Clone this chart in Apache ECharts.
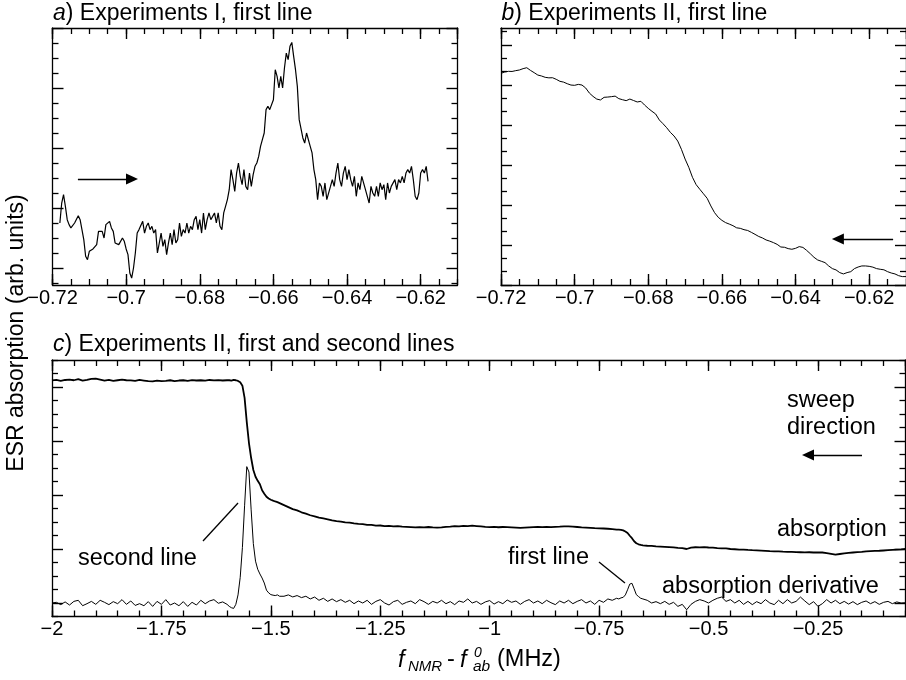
<!DOCTYPE html>
<html>
<head>
<meta charset="utf-8">
<script src="https://cdn.jsdelivr.net/npm/echarts@6/dist/echarts.min.js"></script>
<style>
html,body{margin:0;padding:0;background:#fff;}
#chart{width:906px;height:680px;}
</style>
</head>
<body>
<div id="chart"></div>
<script>
const FONT = '"Liberation Sans", Arial, Helvetica, sans-serif';

// ---- a) Experiments I, first line: sweep frequency (MHz) and ESR signal (arb. units)
const aFreq = [
-0.718,-0.7175,-0.717,-0.7165,-0.716,-0.7155,-0.715,-0.7145,-0.714,-0.7135,
-0.713,-0.7125,-0.712,-0.7115,-0.711,-0.7105,-0.71,-0.7095,-0.709,-0.7085,
-0.708,-0.7075,-0.707,-0.7065,-0.706,-0.7055,-0.705,-0.7045,-0.704,-0.7035,
-0.703,-0.7025,-0.702,-0.7015,-0.701,-0.7005,-0.7,-0.6995,-0.699,-0.6985,
-0.698,-0.6975,-0.697,-0.6965,-0.696,-0.6955,-0.695,-0.6945,-0.694,-0.6935,
-0.693,-0.6925,-0.692,-0.6915,-0.691,-0.6905,-0.69,-0.6895,-0.689,-0.6885,
-0.688,-0.6875,-0.687,-0.6865,-0.686,-0.6855,-0.685,-0.6845,-0.684,-0.6835,
-0.683,-0.6825,-0.682,-0.6815,-0.681,-0.6805,-0.68,-0.6795,-0.679,-0.6785,
-0.678,-0.6775,-0.677,-0.6765,-0.676,-0.6755,-0.675,-0.6745,-0.674,-0.6735,
-0.673,-0.6725,-0.672,-0.6715,-0.671,-0.6705,-0.67,-0.6695,-0.669,-0.6685,
-0.668,-0.6675,-0.667,-0.6665,-0.666,-0.6655,-0.665,-0.6645,-0.664,-0.6635,
-0.663,-0.6625,-0.662,-0.6615,-0.661,-0.6605,-0.66,-0.6595,-0.659,-0.6585,
-0.658,-0.6575,-0.657,-0.6565,-0.656,-0.6555,-0.655,-0.6545,-0.654,-0.6535,
-0.653,-0.6525,-0.652,-0.6515,-0.651,-0.6505,-0.65,-0.6495,-0.649,-0.6485,
-0.648,-0.6475,-0.647,-0.6465,-0.646,-0.6455,-0.645,-0.6445,-0.644,-0.6435,
-0.643,-0.6425,-0.642,-0.6415,-0.641,-0.6405,-0.64,-0.6395,-0.639,-0.6385,
-0.638,-0.6375,-0.637,-0.6365,-0.636,-0.6355,-0.635,-0.6345,-0.634,-0.6335,
-0.633,-0.6325,-0.632,-0.6315,-0.631,-0.6305,-0.63,-0.6295,-0.629,-0.6285,
-0.628,-0.6275,-0.627,-0.6265,-0.626,-0.6255,-0.625,-0.6245,-0.624,-0.6235,
-0.623,-0.6225,-0.622,-0.6215,-0.621,-0.6205,-0.62,-0.6195,-0.619,-0.6185,
-0.618
];
const aSignal = [
3.0,4.33,4.89,4.11,3.22,2.89,2.67,2.78,3.0,3.0,
3.49,3.22,2.56,1.89,0.78,0.56,1.11,1.0,1.27,1.18,
1.56,2.44,2.56,2.44,2.0,2.89,2.78,3.11,2.67,2.44,
1.67,1.67,1.56,1.44,2.0,1.78,1.27,0.89,-0.33,-0.67,
0,1.0,2.33,2.56,2.56,3.11,2.33,2.78,3.0,2.56,
2.78,2.33,2.56,1.0,0.89,2.33,1.44,1.89,0.89,1.67,
2.33,1.56,2.56,1.67,1.89,3.0,2.11,2.56,2.33,3.0,
2.33,2.78,2.56,3.22,3.44,2.56,3.22,2.33,3.67,2.56,
3.22,3.67,3.22,3.44,3.67,3.0,3.67,2.78,2.56,3.67,
4.11,4.56,5.22,6.56,5.89,5.11,6.33,7.0,6.11,5.56,
6.56,5.44,5.22,6.33,5.44,6.22,6.78,7.0,7.44,8.11,
8.56,9.0,10.56,10.78,10.56,10.56,11.22,13.22,12.78,12.0,
12.78,12.0,13.33,14.33,13.89,14.78,15.04,14.11,13.22,12.11,
9.89,9.89,8.67,8.33,9.0,9.0,8.11,7.67,6.56,5.89,
4.56,5.67,5.44,4.78,5.67,4.56,4.56,5.44,5.89,5.44,
6.33,7.0,5.89,5.44,6.33,6.78,5.89,6.56,5.89,5.44,
6.11,4.78,5.67,5.22,6.11,6.11,5.22,5.22,4.33,5.44,
5.0,4.78,5.44,4.78,5.67,5.22,5.56,4.56,5.67,5.0,
5.44,5.44,5.89,5.22,5.89,5.67,6.11,5.67,6.33,6.56,
6.33,6.78,5.89,4.78,4.56,5.0,6.33,6.56,6.33,6.78,
5.78
];

// ---- b) Experiments II, first line
const bFreq = [
-0.72,-0.719,-0.718,-0.717,-0.716,-0.715,-0.714,-0.713,-0.712,-0.711,
-0.71,-0.709,-0.708,-0.707,-0.706,-0.705,-0.704,-0.703,-0.702,-0.701,
-0.7,-0.699,-0.698,-0.697,-0.696,-0.695,-0.694,-0.693,-0.692,-0.691,
-0.69,-0.689,-0.688,-0.687,-0.686,-0.685,-0.684,-0.683,-0.682,-0.681,
-0.68,-0.679,-0.678,-0.677,-0.676,-0.675,-0.674,-0.673,-0.672,-0.671,
-0.67,-0.669,-0.668,-0.667,-0.666,-0.665,-0.664,-0.663,-0.662,-0.661,
-0.66,-0.659,-0.658,-0.657,-0.656,-0.655,-0.654,-0.653,-0.652,-0.651,
-0.65,-0.649,-0.648,-0.647,-0.646,-0.645,-0.644,-0.643,-0.642,-0.641,
-0.64,-0.639,-0.638,-0.637,-0.636,-0.635,-0.634,-0.633,-0.632,-0.631,
-0.63,-0.629,-0.628,-0.627,-0.626,-0.625,-0.624,-0.623,-0.622,-0.621,
-0.62,-0.619,-0.618,-0.617,-0.616,-0.615,-0.614,-0.613,-0.612,-0.611,
-0.61
];
const bSignal = [
15.88,15.98,16.03,16.02,16.08,16.13,16.23,16.30,16.10,15.93,
15.75,15.68,15.58,15.54,15.55,15.43,15.28,15.22,15.10,15.00,
14.98,15.05,15.00,14.78,14.40,14.15,13.95,13.88,14.08,14.10,
14.13,14.17,13.98,13.90,13.83,13.95,13.84,13.73,13.78,13.50,
13.25,13.03,12.83,12.38,12.10,11.80,11.45,11.18,10.80,10.18,
9.45,8.83,8.08,7.53,7.18,6.84,6.50,5.93,5.43,5.08,
4.85,4.68,4.57,4.45,4.29,4.25,4.15,4.09,3.95,3.80,
3.64,3.53,3.38,3.29,3.18,3.05,2.85,2.83,2.73,2.68,
2.75,2.88,2.82,2.60,2.35,2.08,1.88,1.78,1.68,1.43,
1.23,1.13,0.93,0.83,0.93,1.00,1.23,1.35,1.43,1.43,
1.40,1.34,1.23,1.18,1.14,1.00,0.90,0.83,0.70,0.63,
0.63
];

// ---- c) Experiments II, first and second lines
const cFreq = [
-2,-1.99,-1.98,-1.97,-1.96,-1.95,-1.94,-1.93,-1.92,-1.91,
-1.9,-1.89,-1.88,-1.87,-1.86,-1.85,-1.84,-1.83,-1.82,-1.81,
-1.8,-1.79,-1.78,-1.77,-1.76,-1.75,-1.74,-1.73,-1.72,-1.71,
-1.7,-1.69,-1.68,-1.67,-1.66,-1.65,-1.64,-1.63,-1.62,-1.61,-1.6,
-1.595,-1.59,-1.585,-1.58,-1.575,-1.57,-1.565,-1.56,-1.555,-1.55,
-1.545,-1.54,-1.535,-1.53,-1.525,-1.52,-1.515,-1.51,-1.505,-1.5,
-1.495,-1.49,-1.485,-1.48,
-1.47,-1.46,-1.45,-1.44,-1.43,-1.42,-1.41,-1.4,-1.39,-1.38,
-1.37,-1.36,-1.35,-1.34,-1.33,-1.32,-1.31,-1.3,-1.29,-1.28,
-1.27,-1.26,-1.25,-1.24,-1.23,-1.22,-1.21,-1.2,-1.19,-1.18,
-1.17,-1.16,-1.15,-1.14,-1.13,-1.12,-1.11,-1.1,-1.09,-1.08,
-1.07,-1.06,-1.05,-1.04,-1.03,-1.02,-1.01,-1,-0.99,-0.98,
-0.97,-0.96,-0.95,-0.94,-0.93,-0.92,-0.91,-0.9,-0.89,-0.88,
-0.87,-0.86,-0.85,-0.84,-0.83,-0.82,-0.81,-0.8,-0.79,-0.78,
-0.77,-0.76,-0.75,-0.74,-0.73,-0.72,-0.71,
-0.705,-0.7,-0.695,-0.69,-0.685,-0.68,-0.675,-0.67,-0.665,-0.66,-0.655,-0.65,
-0.64,-0.63,-0.62,-0.61,-0.6,-0.59,-0.58,-0.57,-0.56,-0.55,
-0.54,-0.53,-0.52,-0.51,-0.5,-0.49,-0.48,-0.47,-0.46,-0.45,
-0.44,-0.43,-0.42,-0.41,-0.4,-0.39,-0.38,-0.37,-0.36,-0.35,
-0.34,-0.33,-0.32,-0.31,-0.3,-0.29,-0.28,-0.27,-0.26,-0.25,
-0.24,-0.23,-0.22,-0.21,-0.2,-0.19,-0.18,-0.17,-0.16,-0.15,
-0.14,-0.13,-0.12,-0.11,-0.1,-0.09,-0.08,-0.07,-0.06,-0.05
];
const cAbsorption = [
16.49,16.53,16.46,16.52,16.55,16.5,16.58,16.47,16.52,16.6,
16.62,16.55,16.48,16.52,16.46,16.5,16.54,16.5,16.49,16.45,
16.52,16.48,16.44,16.42,16.47,16.44,16.46,16.5,16.44,16.48,
16.5,16.46,16.51,16.48,16.5,16.47,16.52,16.49,16.51,16.48,16.5,
16.5,16.47,16.52,16.5,16.45,16.35,16.1,15.2,13.4,11.85,
10.74,9.85,9.35,9.05,8.8,8.35,8.1,7.87,7.74,7.65,
7.58,7.52,7.47,7.4,
7.25,7.1,6.95,6.86,6.72,6.62,6.5,6.42,6.32,6.26,
6.19,6.12,6.06,6.02,5.97,5.95,5.9,5.86,5.84,5.79,
5.78,5.73,5.74,5.7,5.71,5.67,5.69,5.65,5.64,5.62,
5.6,5.62,5.6,5.63,5.6,5.58,5.6,5.64,5.66,5.69,
5.68,5.72,5.7,5.73,5.7,5.67,5.64,5.62,5.64,5.61,
5.63,5.62,5.6,5.58,5.56,5.58,5.6,5.62,5.63,5.62,
5.64,5.62,5.64,5.65,5.67,5.68,5.66,5.63,5.6,5.58,
5.56,5.54,5.53,5.52,5.5,5.47,5.44,
5.43,5.42,5.38,5.3,5.19,4.98,4.8,4.57,4.43,4.35,4.3,4.27,
4.24,4.23,4.2,4.18,4.16,4.14,4.12,4.08,4.06,4.0,
4.1,4.13,4.12,4.14,4.11,4.1,4.07,4.05,4.04,4.0,
3.98,3.95,3.96,3.93,3.91,3.9,3.88,3.86,3.84,3.83,
3.82,3.8,3.79,3.78,3.77,3.76,3.75,3.76,3.74,3.75,
3.74,3.7,3.64,3.58,3.63,3.68,3.71,3.74,3.77,3.79,
3.82,3.84,3.86,3.87,3.89,3.91,3.93,3.95,3.97,4.0
];
const cDerivative = [
0,0.05,-0.12,0.08,-0.15,0.12,0.2,-0.2,-0.05,0.12,
-0.1,0.2,0.05,-0.12,0.1,-0.05,0.25,-0.1,0.15,-0.18,
-0.05,-0.2,0.1,-0.25,0.12,-0.1,0.25,-0.15,0,-0.2,
0.1,-0.25,0.05,-0.15,0.2,-0.05,0.15,0.25,-0.02,0.08,-0.1,
-0.25,-0.35,-0.4,-0.1,0.6,1.9,4.1,7.2,10.1,9.7,
6.9,4.4,3.1,2.5,2.15,1.85,1.48,0.95,0.75,0.62,
0.58,0.55,0.6,0.5,
0.5,0.6,0.45,0.55,0.4,0.5,0.3,0.44,0.2,0.35,
0.12,0.3,0.1,0.25,0.05,0.2,-0.05,0.15,0,0.2,
-0.1,0.12,0.25,0,-0.15,0.1,0.2,-0.1,0.05,0.15,
-0.05,0.25,0.1,-0.1,0.12,0,0.2,-0.05,0.1,-0.12,
0.15,0.05,0.3,0,0.12,-0.1,0.08,0.18,-0.08,0.1,
-0.05,0.22,0.05,0.15,-0.1,0.12,0.25,0,0.15,-0.05,
0.2,0.02,-0.12,0.15,0,0.2,-0.05,0.12,0.25,0,
0.15,-0.1,0.2,0.05,0.3,0.2,0.35,
0.3,0.38,0.42,0.6,0.98,1.4,1.46,1.05,0.62,0.48,0.35,0.3,
0.2,0,0.1,-0.05,0.12,-0.1,0.05,-0.25,-0.1,-0.5,
-0.1,0.12,0.25,0.15,0,0.2,0.35,0.44,0.12,0.25,
0,0.2,-0.1,0.12,-0.12,0.1,-0.05,0.25,0,-0.12,
0.2,-0.05,0.25,0,0.12,0.44,0.15,-0.12,0.1,-0.25,
-0.05,0.25,0,0.2,-0.05,0.12,-0.08,0.1,-0.12,0.05,
0.15,-0.05,0.1,-0.1,0.05,0.12,-0.05,0.08,0,0.02
];

// ---- helpers for the boxed axes with inward major/minor ticks
function steps(from, to, step) {
  const out = [];
  const n = Math.round((to - from) / step);
  for (let i = 0; i <= n; i++) out.push(Math.round((from + i * step) * 1e6) / 1e6);
  return out;
}
function without(all, majors) {
  return all.filter(v => !majors.some(m => Math.abs(m - v) < 1e-7));
}
function fmt(v) {
  const s = String(+Math.abs(v).toFixed(4));
  return (v < 0 ? '\u2212' : '') + s;
}
const LINE = '#000';
const MAJOR = { length: 11, width: 1.4 };
const MINOR = { length: 6, width: 1.3 };
const tickLabel = { show: true, color: '#000', fontSize: 20, fontFamily: FONT, margin: 3, formatter: fmt, showMaxLabel: false };

// frequency axes: min is a multiple of both tick steps, so ticks are counted from min
function freqAxes(gridIndex, min, max, major, minor) {
  const axes = [];
  ['bottom', 'top'].forEach((pos, s) => {
    axes.push({
      type: 'value', gridIndex, position: pos, min, max, interval: major,
      axisLine: { show: true, onZero: false, lineStyle: { color: LINE, width: 1.3 } },
      axisTick: { show: true, inside: true, length: MAJOR.length, lineStyle: { color: LINE, width: MAJOR.width } },
      axisLabel: s === 0 ? Object.assign({}, tickLabel) : { show: false },
      splitLine: { show: false }
    });
    axes.push({
      type: 'value', gridIndex, position: pos, min, max, interval: minor,
      axisLine: { show: false, onZero: false },
      axisTick: { show: true, inside: true, length: MINOR.length, lineStyle: { color: LINE, width: MINOR.width } },
      axisLabel: { show: false },
      splitLine: { show: false }
    });
  });
  return axes;
}
// signal axes (arbitrary units): ticks placed at explicit values
function signalAxes(gridIndex, min, max, majors, minors) {
  const axes = [];
  ['left', 'right'].forEach(pos => {
    axes.push({
      type: 'value', gridIndex, position: pos, min, max,
      axisLine: { show: true, onZero: false, lineStyle: { color: LINE, width: 1.3 } },
      axisTick: { show: true, inside: true, length: MAJOR.length, customValues: majors, lineStyle: { color: LINE, width: MAJOR.width } },
      axisLabel: { show: false },
      splitLine: { show: false }
    });
    axes.push({
      type: 'value', gridIndex, position: pos, min, max,
      axisLine: { show: false, onZero: false },
      axisTick: { show: true, inside: true, length: MINOR.length, customValues: minors, lineStyle: { color: LINE, width: MINOR.width } },
      axisLabel: { show: false },
      splitLine: { show: false }
    });
  });
  return axes;
}

const aMajorY = [0, 4, 8, 12, 16];
const aMinorY = without(steps(-1, 16, 1), aMajorY);
const bMajorY = [0, 3, 6, 9, 12, 15, 18];
const bMinorY = without(steps(0, 19, 1), bMajorY);
const cMajorY = [0, 4, 8, 12, 16];
const cMinorY = without(steps(-1, 18, 1), cMajorY);

const xAxes = [].concat(
  freqAxes(0, -0.72, -0.61, 0.02, 0.005),
  freqAxes(1, -0.72, -0.61, 0.02, 0.005),
  freqAxes(2, -2, -0.05, 0.25, 0.05)
);
const yAxes = [].concat(
  signalAxes(0, -1.133, 16, aMajorY, aMinorY),
  signalAxes(1, 0, 19.28, bMajorY, bMinorY),
  signalAxes(2, -1, 18, cMajorY, cMinorY)
);

const pairs = (xs, ys) => xs.map((x, i) => [x, ys[i]]);

function arrowLine(from, to, head) {
  return [
    { coord: from, symbol: 'none' },
    { coord: to, symbol: head ? 'triangle' : 'none', symbolSize: [11, 12] }
  ];
}
const markStyle = {
  silent: true, animation: false, label: { show: false },
  emphasis: { disabled: true },
  lineStyle: { color: '#000', width: 1.3, type: 'solid' }
};

const series = [
  {
    type: 'line', xAxisIndex: 0, yAxisIndex: 0, data: pairs(aFreq, aSignal),
    showSymbol: false, lineStyle: { color: '#000', width: 1.2 }, animation: false,
    markLine: Object.assign({ data: [arrowLine([-0.7131, 5.93], [-0.6984, 5.93], true)] }, markStyle)
  },
  {
    type: 'line', xAxisIndex: 4, yAxisIndex: 4, data: pairs(bFreq, bSignal),
    showSymbol: false, lineStyle: { color: '#000', width: 1.0 }, animation: false,
    markLine: Object.assign({ data: [arrowLine([-0.6135, 3.45], [-0.6285, 3.45], true)] }, markStyle)
  },
  {
    type: 'line', xAxisIndex: 8, yAxisIndex: 8, data: pairs(cFreq, cAbsorption),
    showSymbol: false, lineStyle: { color: '#000', width: 1.8 }, animation: false,
    markLine: Object.assign({ data: [arrowLine([-0.1494, 10.96], [-0.2728, 10.96], true)] }, markStyle)
  },
  {
    type: 'line', xAxisIndex: 8, yAxisIndex: 8, data: pairs(cFreq, cDerivative),
    showSymbol: false, lineStyle: { color: '#000', width: 1.0 }, animation: false,
    markLine: Object.assign({ data: [
      arrowLine([-1.655, 4.59], [-1.575, 7.41], false),
      arrowLine([-0.7503, 3.04], [-0.6909, 1.48], false)
    ] }, markStyle)
  }
];

// ---- text
function txt(text, x, y, size, extra) {
  return {
    type: 'text', x, y, silent: true,
    style: Object.assign({
      text, fill: '#000', fontSize: size, fontFamily: FONT,
      align: 'left', verticalAlign: 'middle'
    }, extra || {})
  };
}
const ital = { i: { fontStyle: 'italic', fontSize: 23, fontFamily: FONT } };
const graphics = [
  txt('{i|a}) Experiments I, first line', 53, 13.7, 23, { rich: ital }),
  txt('{i|b}) Experiments II, first line', 501.5, 13.7, 23, { rich: ital }),
  txt('{i|c}) Experiments II, first and second lines', 53, 345, 23, { rich: ital }),
  txt('sweep', 787, 401, 23.5),
  txt('direction', 787, 428, 23.5),
  txt('absorption', 777, 530, 23.5),
  txt('first line', 508, 558, 23.5),
  txt('absorption derivative', 662, 587, 23.5),
  txt('second line', 78, 558.5, 23.5),
  // axis titles
  Object.assign(txt('ESR absorption (arb. units)', 16.8, 333, 23, { align: 'center' }), { rotation: Math.PI / 2 }),
  txt('f', 398, 660, 23.5, { fontStyle: 'italic' }),
  txt('NMR', 408, 667, 15, { fontStyle: 'italic' }),
  txt('-', 447, 660, 23.5),
  txt('f', 460, 660, 23.5, { fontStyle: 'italic' }),
  txt('0', 474, 653, 14, { fontStyle: 'italic' }),
  txt('ab', 473, 667, 15.5, { fontStyle: 'italic' }),
  txt('(MHz)', 497, 660, 23.5)
];

const chart = echarts.init(document.getElementById('chart'), null, { renderer: 'canvas' });
chart.setOption({
  animation: false,
  backgroundColor: '#fff',
  textStyle: { fontFamily: FONT },
  grid: [
    { left: 52.5, top: 28, width: 405, height: 257, outerBoundsMode: 'none' },
    { left: 501, top: 28, width: 405, height: 257, outerBoundsMode: 'none' },
    { left: 52, top: 360, width: 853.5, height: 256.5, outerBoundsMode: 'none' }
  ],
  xAxis: xAxes,
  yAxis: yAxes,
  series,
  graphic: graphics
});
</script>
</body>
</html>
